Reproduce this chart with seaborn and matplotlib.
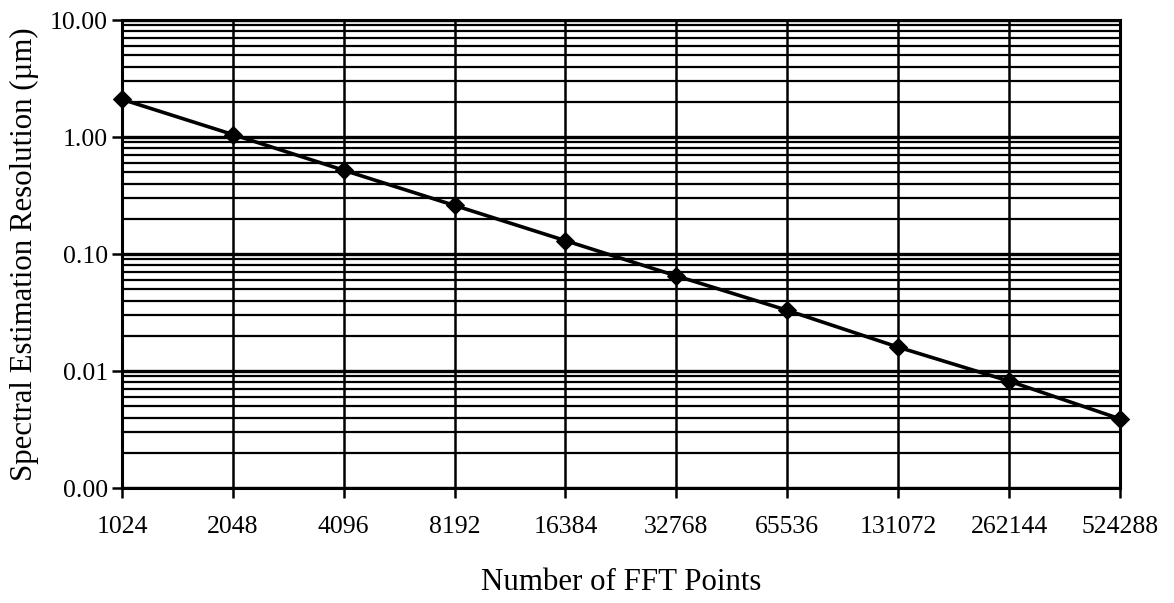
import numpy as np
import pandas as pd
import matplotlib
matplotlib.use("Agg")
import matplotlib.pyplot as plt
from matplotlib.ticker import FixedLocator, FixedFormatter, NullFormatter
import seaborn as sns

# FFT sizes and the spectral estimation resolution for each (µm)
fft_points = ["1024", "2048", "4096", "8192", "16384", "32768",
              "65536", "131072", "262144", "524288"]
resolution = [2.1, 1.05, 0.52, 0.26, 0.13, 0.065, 0.033, 0.016, 0.0082, 0.0039]

y_ticks = [0.001, 0.01, 0.1, 1.0, 10.0]
y_tick_labels = ["0.00", "0.01", "0.10", "1.00", "10.00"]

sns.set_theme(style="white")
plt.rcParams["font.family"] = ["Liberation Serif", "DejaVu Serif"]

df = pd.DataFrame({"points": fft_points, "res": resolution})

fig = plt.figure(figsize=(11.74, 6.03), dpi=100)
ax = fig.add_axes([0.1039, 0.1907, 0.8500, 0.7761])

sns.lineplot(data=df, x="points", y="res", ax=ax, color="black",
             linewidth=2.6, marker="D", markersize=9, markeredgecolor="black",
             sort=False, zorder=5, clip_on=False)

ax.set_yscale("log")
ax.set_ylim(0.001, 10)
ax.set_xlim(0, len(fft_points) - 1)

# y axis: labelled decades, every minor value drawn as a grid line
ax.yaxis.set_major_locator(FixedLocator(y_ticks))
ax.yaxis.set_major_formatter(FixedFormatter(y_tick_labels))
minor = [m * d for d in [0.001, 0.01, 0.1, 1.0] for m in range(2, 10)]
ax.yaxis.set_minor_locator(FixedLocator(minor))
ax.yaxis.set_minor_formatter(NullFormatter())

ax.set_xticks(range(len(fft_points)))
ax.set_xticklabels(fft_points)

ax.grid(True, which="major", axis="y", color="black", linewidth=2.4)
ax.grid(True, which="minor", axis="y", color="black", linewidth=1.6)
ax.grid(True, which="major", axis="x", color="black", linewidth=1.8)

for side in ["top", "right"]:
    ax.spines[side].set_visible(True)
for s in ax.spines.values():
    s.set_color("black")
    s.set_linewidth(2.2)

ax.tick_params(axis="both", which="major", direction="out", length=7,
               width=1.8, color="black", labelsize=18.5, labelcolor="black",
               left=True, bottom=True)
ax.tick_params(axis="x", which="major", pad=13)
ax.tick_params(axis="y", which="major", pad=3)
ax.tick_params(axis="y", which="minor", left=False)

ax.set_xlabel("Number of FFT Points", fontsize=22.2, color="black", labelpad=22)
ax.set_ylabel("Spectral Estimation Resolution (µm)", fontsize=22.2,
              color="black", labelpad=8)

fig.savefig("out.png", dpi=100, facecolor="white")
